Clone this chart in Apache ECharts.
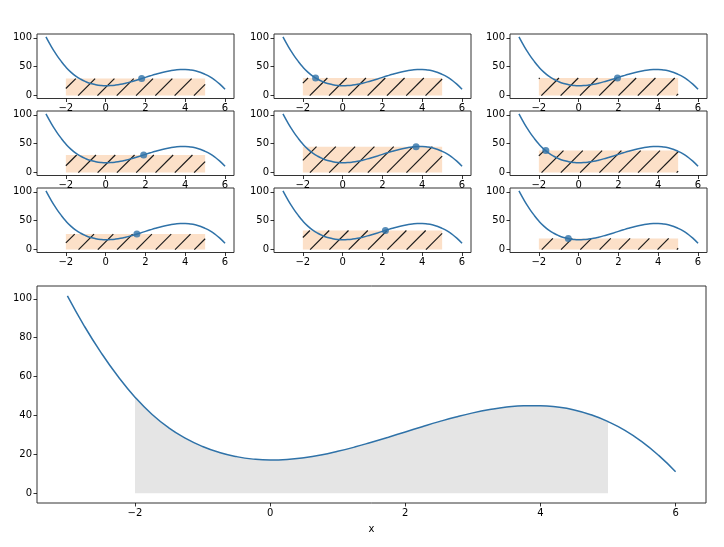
<!DOCTYPE html>
<html>
<head>
<meta charset="utf-8">
<script src="https://cdn.jsdelivr.net/npm/echarts@6/dist/echarts.min.js"></script>
<style>html,body{margin:0;padding:0;background:#fff}#c{width:724px;height:547px}</style>
</head>
<body>
<div id="c"></div>
<script>
// Curve (x from -3 to 6)
const curveX = [-3,-2.75,-2.5,-2.25,-2,-1.75,-1.5,-1.25,-1,-0.75,-0.5,-0.25,0,0.25,0.5,0.75,1,1.25,1.5,1.75,2,2.25,2.5,2.75,3,3.25,3.5,3.75,4,4.25,4.5,4.75,5,5.25,5.5,5.75,6];
const curveY = [101.5,86.0,72.2,60.0,49.4,40.6,33.6,28.2,24.0,20.9,18.8,17.5,17.0,17.3,18.2,19.6,21.5,23.7,26.2,28.8,31.5,34.2,36.8,39.2,41.3,43.0,44.3,45.0,45.0,44.3,42.8,40.3,36.8,32.3,26.5,19.4,11.0];
// Integration interval
const intervalA = -2;
const intervalB = 5;
// Sample points for the 9 small panels (row by row)
const sampleX = [1.81, -1.36, 1.95, 1.91, 3.69, -1.65, 1.57, 2.15, -0.52];
const sampleY = [29.4, 30.5, 30.5, 30.5, 44.8, 38.0, 26.8, 33.0, 19.3];
// Ticks
const xTicks = [-2, 0, 2, 4, 6];
const yTicksSmall = [0, 50, 100];
const yTicksBig = [0, 20, 40, 60, 80, 100];

const X_MIN = -3.45, X_MAX = 6.45, Y_MIN = -5.08, Y_MAX = 106.6;
const BLUE = '#2f72a8';
const FONT = 'DejaVu Sans';
const minus = v => String(v).replace('-', '\u2212');

const curveData = curveX.map((x, i) => [x, curveY[i]]);
const fillData = curveData.filter(p => p[0] >= intervalA && p[0] <= intervalB);

const colLeft = [37, 274, 510];
const rowTop = [34, 111, 188];
const grids = [], xAxes = [], yAxes = [], series = [];

function mkX(idx, name) {
  return {
    gridIndex: idx, type: 'value', min: X_MIN, max: X_MAX,
    splitLine: {show: false}, axisLine: {show: false, onZero: false},
    axisTick: {show: true, length: 3.5, lineStyle: {color: '#000', width: 0.8}, customValues: xTicks},
    axisLabel: {show: true, customValues: xTicks, formatter: minus, margin: 5, fontFamily: FONT, fontSize: 10, color: '#000'},
    name: name || '', nameLocation: 'middle', nameGap: 21,
    nameTextStyle: {fontFamily: FONT, fontSize: 10, color: '#000'}
  };
}
function mkY(idx, ticks) {
  return {
    gridIndex: idx, type: 'value', min: Y_MIN, max: Y_MAX,
    splitLine: {show: false}, axisLine: {show: false, onZero: false},
    axisTick: {show: true, length: 3.5, lineStyle: {color: '#000', width: 0.8}, customValues: ticks},
    axisLabel: {show: true, customValues: ticks, formatter: minus, margin: 5, fontFamily: FONT, fontSize: 10, color: '#000'}
  };
}

function hatchRect(params, api) {
  const p0 = api.coord([api.value(0), api.value(2)]);
  const p1 = api.coord([api.value(1), 0]);
  const x0 = p0[0], y0 = p0[1], x1 = p1[0], y1 = p1[1];
  const children = [{type: 'rect', shape: {x: x0, y: y0, width: x1 - x0, height: y1 - y0}, style: {fill: '#fce0c8'}}];
  const s = 19.3;
  for (let c = Math.ceil((x0 + y0) / s) * s; c <= x1 + y1; c += s) {
    const xa = Math.max(x0, c - y1), xb = Math.min(x1, c - y0);
    if (xb > xa) children.push({type: 'line', shape: {x1: xa, y1: c - xa, x2: xb, y2: c - xb}, style: {stroke: '#1a1a1a', lineWidth: 1.2}});
  }
  return {type: 'group', children};
}

for (let i = 0; i < 9; i++) {
  const r = Math.floor(i / 3), c = i % 3;
  grids.push({left: colLeft[c], top: rowTop[r], width: 197, height: 64.5, show: true, borderColor: '#333', borderWidth: 1, backgroundColor: 'transparent'});
  xAxes.push(mkX(i));
  yAxes.push(mkY(i, yTicksSmall));
  series.push({type: 'custom', xAxisIndex: i, yAxisIndex: i, renderItem: hatchRect, data: [[intervalA, intervalB, sampleY[i]]], z: 1, silent: true});
  series.push({type: 'line', xAxisIndex: i, yAxisIndex: i, data: curveData, smooth: 0.5, showSymbol: false, lineStyle: {color: BLUE, width: 1.5}, z: 2});
  series.push({type: 'scatter', xAxisIndex: i, yAxisIndex: i, data: [[sampleX[i], sampleY[i]]], symbolSize: 7, itemStyle: {color: BLUE}, z: 3});
}
// Big panel
grids.push({left: 37, top: 286, width: 669, height: 217, show: true, borderColor: '#333', borderWidth: 1, backgroundColor: 'transparent'});
xAxes.push(mkX(9, 'x'));
yAxes.push(mkY(9, yTicksBig));
series.push({type: 'line', xAxisIndex: 9, yAxisIndex: 9, data: fillData, smooth: 0.5, showSymbol: false, lineStyle: {width: 0}, areaStyle: {color: '#e5e5e5', opacity: 1}, z: 1});
series.push({type: 'line', xAxisIndex: 9, yAxisIndex: 9, data: curveData, smooth: 0.5, showSymbol: false, lineStyle: {color: BLUE, width: 1.5}, z: 2});

const chart = echarts.init(document.getElementById('c'), null, {renderer: 'canvas'});
chart.setOption({animation: false, backgroundColor: '#fff', grid: grids, xAxis: xAxes, yAxis: yAxes, series});
</script>
</body>
</html>
